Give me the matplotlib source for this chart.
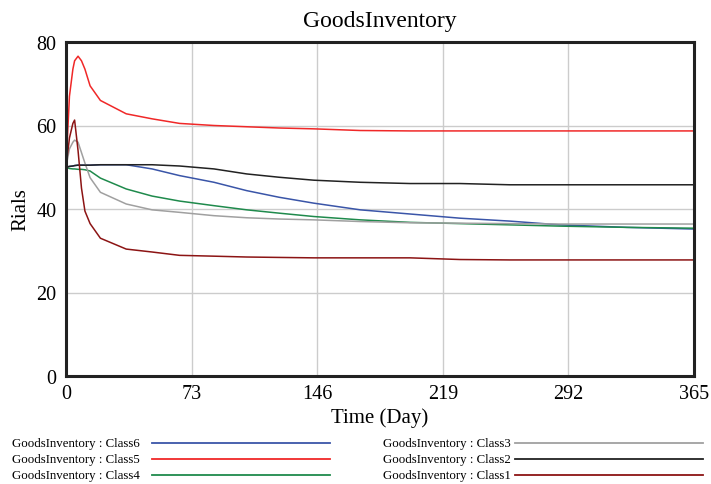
import matplotlib
matplotlib.use("Agg")
import matplotlib.pyplot as plt
from matplotlib.lines import Line2D

plt.rcParams["font.family"] = ["Liberation Serif", "DejaVu Serif"]

# --- data (day, Rials) ---
days = [0, 2, 4, 5, 7, 9, 11, 14, 20, 35, 50, 66, 86, 105, 124, 144, 171, 200, 229, 258, 287, 326, 365]

class6 = [50, 50.2, 50.3, 50.4, 50.5, 50.5, 50.5, 50.5, 50.6, 50.6, 49.6, 48.0, 46.4, 44.4, 42.8, 41.4,
          39.8, 38.8, 37.8, 37.1, 36.2, 35.6, 35.2]
class5 = [50, 67, 73.5, 75.5, 76.6, 75.5, 73.5, 69.5, 66, 62.8, 61.6, 60.5, 60.0, 59.7, 59.4, 59.2,
          58.8, 58.7, 58.7, 58.7, 58.7, 58.7, 58.7]
class4 = [50, 49.7, 49.6, 49.6, 49.5, 49.5, 49.4, 49.1, 47.4, 44.8, 43.1, 41.9, 40.8, 39.8, 39.0, 38.2,
          37.4, 36.8, 36.5, 36.2, 35.9, 35.6, 35.4]
class3 = [50, 54.4, 56.0, 56.5, 56.0, 53.5, 51.0, 47.5, 44.0, 41.2, 39.8, 39.2, 38.4, 37.9, 37.6, 37.4,
          37.0, 36.7, 36.6, 36.5, 36.4, 36.4, 36.4]
class2 = [50, 50.2, 50.3, 50.4, 50.5, 50.5, 50.5, 50.5, 50.6, 50.6, 50.6, 50.3, 49.6, 48.4, 47.6, 46.9,
          46.4, 46.1, 46.1, 45.8, 45.8, 45.8, 45.8]
class1 = [50, 57, 60.5, 61.3, 54, 45, 39.5, 36.5, 33.0, 30.4, 29.7, 28.9, 28.7, 28.5, 28.4, 28.3,
          28.3, 28.3, 27.9, 27.8, 27.8, 27.8, 27.8]

series = [
    ("GoodsInventory : Class6", class6, "#3a55a8"),
    ("GoodsInventory : Class5", class5, "#f02828"),
    ("GoodsInventory : Class4", class4, "#1f8a4c"),
    ("GoodsInventory : Class3", class3, "#a0a0a0"),
    ("GoodsInventory : Class2", class2, "#222222"),
    ("GoodsInventory : Class1", class1, "#8c1414"),
]

x_ticks = [0, 73, 146, 219, 292, 365]
y_ticks = [0, 20, 40, 60, 80]

W, H = 711, 485
fig = plt.figure(figsize=(W / 100, H / 100), dpi=100)
ax = fig.add_axes([66 / W, 1 - 377 / H, (694 - 66) / W, (377 - 43) / H])

for name, vals, col in series:
    ax.plot(days, vals, color=col, lw=1.1)

ax.set_xlim(0, 365)
ax.set_ylim(0, 80)
ax.set_xticks(x_ticks)
ax.set_yticks(y_ticks)
ax.tick_params(labelsize=14.5, length=0, width=1)
ax.tick_params(axis="x", pad=6)
ax.tick_params(axis="y", pad=7)
ax.grid(color="#cccccc", lw=1)
ax.set_axisbelow(True)
for sp in ax.spines.values():
    sp.set_linewidth(2.2)
    sp.set_color("#222222")

# title is centred over the plot area
fig.text((66 + 694) / 2 / W, 1 - 27 / H, "GoodsInventory", fontsize=17,
         ha="center", va="baseline")
ax.set_xlabel("Time (Day)", fontsize=15, labelpad=3)
ax.set_ylabel("Rials", fontsize=15, labelpad=4)

# legend laid out like the reference: two columns of text + line swatch
col_x = [(12, 152, 330), (383, 515, 703)]
row_y = [444, 460, 476]
for i, (name, vals, col) in enumerate(series):
    c = i // 3
    r = i % 3
    tx, l0, l1 = col_x[c]
    y = 1 - row_y[r] / H
    fig.text(tx / W, y, name, fontsize=9.3, va="center", ha="left")
    fig.add_artist(Line2D([l0 / W, l1 / W], [y, y], color=col, lw=1.3,
                          transform=fig.transFigure))

fig.savefig("out.png", dpi=100)
